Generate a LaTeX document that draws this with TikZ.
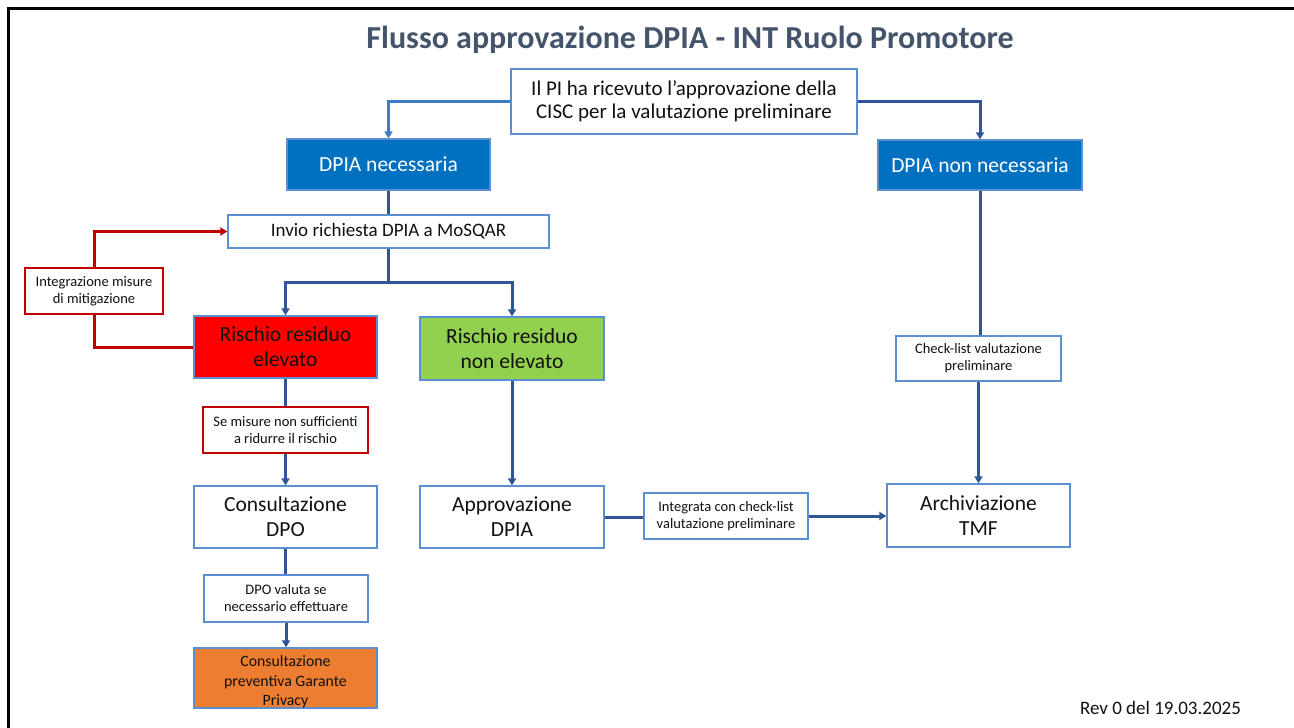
\documentclass[tikz,border=0pt]{standalone}
\usepackage{fontspec}
\setmainfont{Carlito}
\usetikzlibrary{arrows.meta,backgrounds}
\definecolor{conn}{HTML}{2F5597}
\definecolor{connlight}{HTML}{3F7CC4}
\definecolor{bord}{HTML}{5B8FD0}
\definecolor{redline}{HTML}{C00000}
\definecolor{bluefill}{HTML}{0070C0}
\definecolor{redfill}{HTML}{FF0000}
\definecolor{greenfill}{HTML}{92D050}
\definecolor{orangefill}{HTML}{ED7D31}
\definecolor{titlecol}{HTML}{44546A}
\definecolor{txt}{HTML}{111111}
\begin{document}
\begin{tikzpicture}[x=1pt,y=-1pt,
  boxbase/.style={draw=bord,line width=1.3pt,inner sep=0pt,align=center,anchor=center,text=txt},
  bigbox/.style={boxbase,fill=white,font=\fontsize{21.5}{25}\selectfont},
  smallbox/.style={boxbase,fill=white,font=\fontsize{14.5}{17}\selectfont},
  redsmall/.style={smallbox,draw=redline},
  bluebox/.style={boxbase,fill=bluefill,text=white,font=\fontsize{21.5}{25}\selectfont},
  conline/.style={draw=conn,line width=3pt},
  conarrow/.style={conline,-{Triangle[width=8pt,length=7pt]}},
  redarrow/.style={draw=redline,line width=3pt,-{Triangle[width=8pt,length=7pt]}},
  frameline/.style={draw=black,line width=3pt}
]
\useasboundingbox (0,0) rectangle (1294,728);

\node[font=\fontsize{32}{36}\selectfont\bfseries,text=titlecol] (title) at (690,40) {Flusso approvazione DPIA - INT Ruolo Promotore};

\node[bigbox,minimum width=346pt,minimum height=65pt,font=\fontsize{21}{23.5}\selectfont] (top) at (684,101.5) {Il PI ha ricevuto l’approvazione della\\CISC per la valutazione preliminare};
\node[bluebox,minimum width=203pt,minimum height=51pt] (nec) at (388.5,164.5) {DPIA necessaria};
\node[bluebox,minimum width=204pt,minimum height=50pt] (nonnec) at (980,165) {DPIA non necessaria};
\node[boxbase,fill=white,minimum width=321pt,minimum height=33pt,font=\fontsize{19}{22}\selectfont] (invio) at (388.5,231.5) {Invio richiesta DPIA a MoSQAR};
\node[bigbox,fill=redfill,minimum width=183pt,minimum height=62pt] (elev) at (285.5,347) {Rischio residuo\\elevato};
\node[bigbox,fill=greenfill,minimum width=184pt,minimum height=63pt] (nonelev) at (512,348.5) {Rischio residuo\\non elevato};
\node[redsmall,minimum width=138pt,minimum height=46pt] (mitig) at (94,291) {Integrazione misure\\di mitigazione};
\node[redsmall,minimum width=165pt,minimum height=46pt] (semis) at (285.5,430) {Se misure non sufficienti\\a ridurre il rischio};
\node[bigbox,minimum width=183pt,minimum height=62pt] (cdpo) at (285.5,517) {Consultazione\\DPO};
\node[smallbox,minimum width=164pt,minimum height=47pt] (dpoval) at (286,598.5) {DPO valuta se\\necessario effettuare};
\node[boxbase,fill=orangefill,minimum width=183pt,minimum height=60pt,
  label={[font=\fontsize{15.8}{19.5}\selectfont,align=center,text=txt,inner sep=0pt,yshift=-4pt]center:Consultazione\\preventiva Garante\\Privacy}] (garante) at (285.5,678) {};
\node[bigbox,minimum width=184pt,minimum height=62pt] (appr) at (512,517) {Approvazione\\DPIA};
\node[smallbox,minimum width=164pt,minimum height=46pt] (integrata) at (726,516) {Integrata con check-list\\valutazione preliminare};
\node[bigbox,minimum width=183pt,minimum height=63pt] (arch) at (978.5,515.5) {Archiviazione\\TMF};
\node[smallbox,minimum width=165pt,minimum height=45pt] (check) at (978.5,358.5) {Check-list valutazione\\preliminare};
\node[font=\fontsize{19}{22}\selectfont,text=txt] (rev) at (1160.5,708) {Rev 0 del 19.03.2025};

\begin{scope}[on background layer]
\fill[white] (0,0) rectangle (1294,728);
\draw[frameline] (7,8.5) -- (1294,8.5);
\draw[frameline] (8.5,7) -- (8.5,728);
\draw[conarrow,draw=connlight] (top.west) -| (nec.north);
\draw[conarrow] (top.east) -| (nonnec.north);
\draw[conline] (nec.south) -- (invio.north);
\coordinate (split) at (388.5,282);
\draw[conline] (invio.south) -- (split);
\draw[conarrow] (split) -| (elev.north);
\draw[conarrow] (split) -| (nonelev.north);
\draw[redarrow] (elev.west) -| (mitig.center) |- (invio.west);
\draw[conline] (elev.south) -- (semis.north);
\draw[conarrow] (semis.south) -- (cdpo.north);
\draw[conline] (cdpo.south) -- (cdpo.south |- dpoval.north);
\draw[conarrow] (dpoval.south) -- (dpoval.south |- garante.north);
\draw[conarrow] (nonelev.south) -- (appr.north);
\draw[conline] (appr.east) -- (appr.east -| integrata.west);
\draw[conarrow] (integrata.east) -- (integrata.east -| arch.west);
\draw[conline] (nonnec.south) -- (nonnec.south |- check.north);
\draw[conarrow] (check.south) -- (check.south |- arch.north);
\end{scope}
\end{tikzpicture}
\end{document}
